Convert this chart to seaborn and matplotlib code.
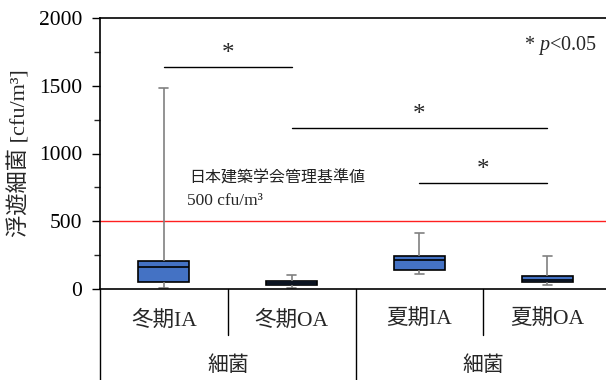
import matplotlib
matplotlib.use("Agg")
import matplotlib.pyplot as plt
import seaborn as sns
import pandas as pd
from matplotlib.ticker import MultipleLocator

# five-number summaries (min, Q1, median, Q3, max)
categories = ["冬期IA", "冬期OA", "夏期IA", "夏期OA"]
groups = ["細菌", "細菌"]
w_ia = [8, 50, 165, 210, 1480]
w_oa = [8, 30, 45, 58, 105]
s_ia = [112, 140, 215, 240, 415]
s_oa = [30, 55, 70, 98, 240]
threshold = 500
sig_pairs = [(0, 1), (1, 3), (2, 3)]
sig_heights = [1640, 1190, 780]

sns.set_theme(style="white")
plt.rcParams["font.family"] = ["Liberation Serif", "Noto Sans CJK JP", "DejaVu Sans"]
plt.rcParams["mathtext.fontset"] = "custom"
plt.rcParams["mathtext.rm"] = "Liberation Serif"
plt.rcParams["mathtext.it"] = "Liberation Serif:italic"
jp = ["Noto Sans CJK JP", "DejaVu Sans"]
mix = ["Liberation Serif", "Noto Sans CJK JP", "DejaVu Sans"]

rows = []
for cat, vals in zip(categories, [w_ia, w_oa, s_ia, s_oa]):
    for v in vals:
        rows.append({"cat": cat, "val": v})
df = pd.DataFrame(rows)

fig = plt.figure(figsize=(6.06, 3.80), dpi=100)
ax = fig.add_axes([100 / 606, 1 - 289 / 380, (606 - 100) / 606, (289 - 18) / 380])

sns.boxplot(data=df, x="cat", y="val", order=categories, whis=(0, 100),
            width=0.4, color="#4472C4", saturation=1, ax=ax,
            boxprops=dict(edgecolor="black", linewidth=1.2),
            medianprops=dict(color="black", linewidth=1.2),
            whiskerprops=dict(color="#808080", linewidth=1.2),
            capprops=dict(color="#808080", linewidth=1.2),
            capwidths=0.07)

ax.set_xlim(-0.5, 3.46)
ax.set_ylim(0, 2000)
ax.axhline(threshold, color="#FF2020", lw=1.0, zorder=1)

ax.yaxis.set_major_locator(MultipleLocator(500))
ax.yaxis.set_minor_locator(MultipleLocator(250))
ax.tick_params(axis="y", which="major", direction="out", length=6, width=1,
               left=True, colors="black", pad=7)
ax.tick_params(axis="y", which="minor", direction="out", length=4, width=1, left=True)
ax.set_yticks(range(0, 2001, 500))
ax.set_yticklabels([str(v) for v in range(0, 2001, 500)], family="Liberation Serif",
                   fontsize=15.5)

ax.set_xticks([])
ax.set_xlabel("")
ax.set_ylabel("浮遊細菌 [cfu/m³]", fontsize=16, family=mix, labelpad=6)

for s in ["left", "bottom", "top"]:
    ax.spines[s].set_color("black")
    ax.spines[s].set_linewidth(1.2)
ax.spines["right"].set_visible(False)

# significance bars
for (a, b), h in zip(sig_pairs, sig_heights):
    ax.plot([a, b], [h, h], color="black", lw=1.0)
    ax.text((a + b) / 2, h + 15, "*", ha="center", va="bottom", fontsize=18,
            family="Liberation Serif")

# "* p<0.05" note
ax.text(3.39, 1800, r"* $\mathit{p}$<0.05", ha="right", va="center", fontsize=14.5,
        family="Liberation Serif")

ax.text(0.2, 819, "日本建築学会管理基準値", ha="left", va="center",
        fontsize=11.5, family=jp, color="#222222")
ax.text(0.18, 652, "500 cfu/m³", ha="left", va="center", fontsize=12.5,
        family="Liberation Serif")

# hierarchical category axis drawn below the axes
trans = ax.get_xaxis_transform()
for xpos, y1 in [(-0.5, -0.42), (0.5, -0.17), (1.5, -0.42), (2.5, -0.17)]:
    ax.plot([xpos, xpos], [0, y1], color="black", lw=1.0, transform=trans,
            clip_on=False)
for i, c in enumerate(categories):
    ax.text(i, -0.115, c, ha="center", va="center", fontsize=15.5, family=mix,
            transform=trans)
for gx, g in zip([0.5, 2.5], groups):
    ax.text(gx, -0.28, g, ha="center", va="center", fontsize=15, family=jp,
            transform=trans)

fig.savefig("out.png", dpi=100)
